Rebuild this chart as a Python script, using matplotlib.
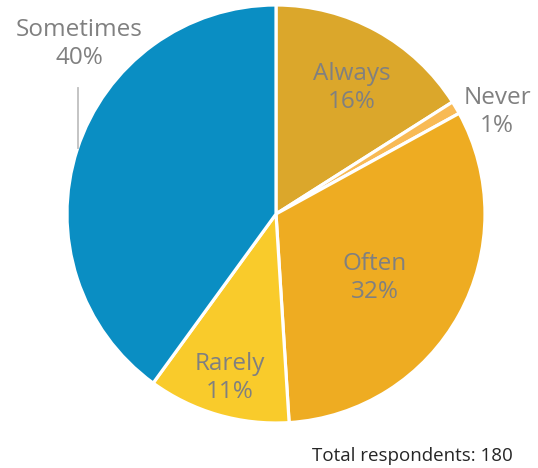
import matplotlib
matplotlib.use("Agg")
import matplotlib.pyplot as plt

labels = ["Always", "Never", "Often", "Rarely", "Sometimes"]
shares = [16, 1, 32, 11, 40]
colors = ["#DBA72B", "#F8BA55", "#EEAC22", "#F9CB2B", "#0A8EC3"]
total = 180

plt.rcParams["font.family"] = ["Open Sans", "DejaVu Sans"]

fig = plt.figure(figsize=(5.38, 4.68), dpi=100)
ax = fig.add_axes([0, 0, 1, 1])

cx, cy, r = 276, 468 - 214, 209
ax.pie(shares, colors=colors, startangle=90, counterclock=False,
       center=(cx, cy), radius=r, frame=True,
       wedgeprops=dict(edgecolor="white", linewidth=2.3))
ax.set_xlim(0, 538)
ax.set_ylim(0, 468)
ax.set_aspect("equal")
ax.axis("off")

# label positions (pixel coords from top-left)
label_pos = {
    "Always": (352, 88),
    "Never": (497, 112),
    "Often": (375, 278),
    "Rarely": (230, 378),
    "Sometimes": (79, 44),
}
for name, pct in zip(labels, shares):
    x, y = label_pos[name]
    ax.text(x, 468 - y, f"{name}\n{pct}%", ha="center", va="center",
            fontsize=17.5, color="#808080", linespacing=1.2)

ax.plot([78, 78], [468 - 88, 468 - 148], color="#BFBFBF", lw=1.3)

ax.text(513, 468 - 456, f"Total respondents: {total}", ha="right", va="center",
        fontsize=13.5, color="#262626")

fig.savefig("out.png", dpi=100)
